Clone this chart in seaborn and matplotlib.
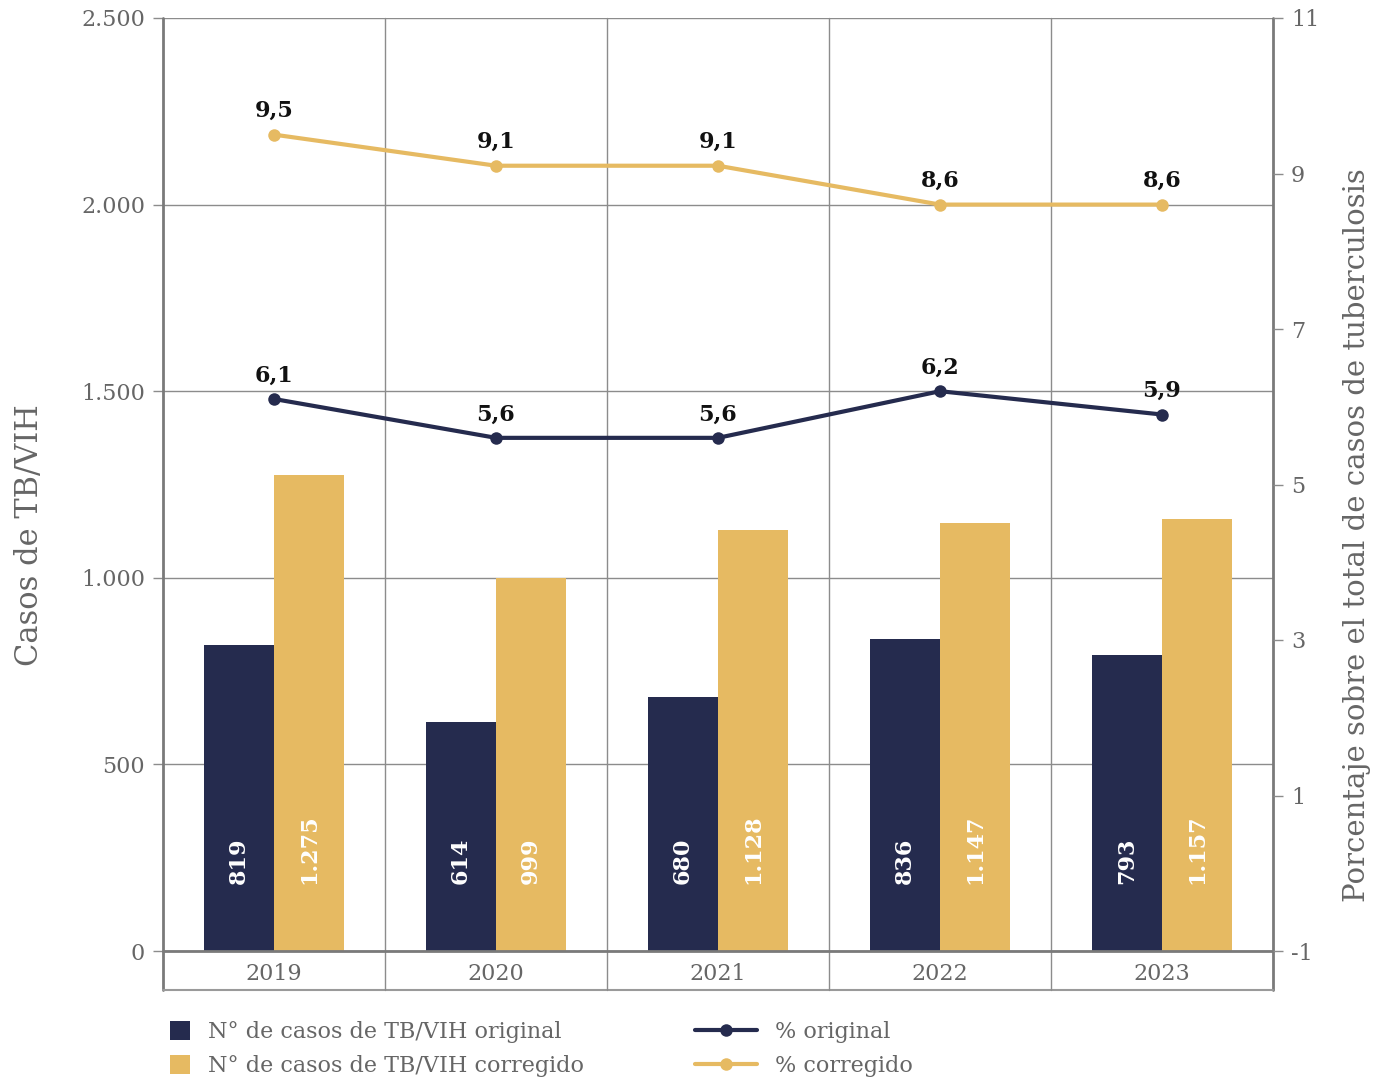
import numpy as np
import pandas as pd
import matplotlib
matplotlib.use("Agg")
import matplotlib.pyplot as plt
from matplotlib.lines import Line2D
from matplotlib.ticker import FuncFormatter
import seaborn as sns

# ---- data ----
years = [2019, 2020, 2021, 2022, 2023]
casos_original = [819, 614, 680, 836, 793]
casos_corregido = [1275, 999, 1128, 1147, 1157]
pct_original = [6.1, 5.6, 5.6, 6.2, 5.9]
pct_corregido = [9.5, 9.1, 9.1, 8.6, 8.6]

LAB_BO = "N° de casos de TB/VIH original"
LAB_BC = "N° de casos de TB/VIH corregido"
LAB_LO = "% original"
LAB_LC = "% corregido"

NAVY = "#252B4E"
GOLD = "#E6BA62"
GREY = "#666666"
LINE = "#8c8c8c"

df_bar = pd.DataFrame({
    "year": years * 2,
    "casos": casos_original + casos_corregido,
    "serie": [LAB_BO] * 5 + [LAB_BC] * 5,
})
df_pct = pd.DataFrame({
    "year": years * 2,
    "pct": pct_original + pct_corregido,
    "serie": [LAB_LO] * 5 + [LAB_LC] * 5,
})

sns.set_style("white")
plt.rcParams["font.family"] = ["DejaVu Serif"]
plt.rcParams["axes.unicode_minus"] = False

fig = plt.figure(figsize=(13.98, 10.83), dpi=100)
ax = fig.add_axes([163 / 1398, 1 - 951 / 1083, 1110 / 1398, 933 / 1083])

sns.barplot(data=df_bar, x="year", y="casos", hue="serie", native_scale=True,
            palette=[NAVY, GOLD], width=0.63, saturation=1, linewidth=0,
            ax=ax, zorder=2)
ax.set_xlim(2018.5, 2023.5)
ax.set_ylim(0, 2500)
ax.set_yticks(np.arange(0, 2501, 500))
ax.yaxis.set_major_formatter(FuncFormatter(lambda v, p: f"{int(v):,}".replace(",", ".")))
ax.set_xticks(years)
ax.set_axisbelow(True)
ax.grid(axis="y", color=LINE, linewidth=1)
ax.grid(axis="x", visible=False)

# bar value labels, white, rotated, anchored near the bottom
for cont in ax.containers:
    for p in cont.patches:
        v = p.get_height()
        ax.text(p.get_x() + p.get_width() / 2, 180, f"{int(v):,}".replace(",", "."),
                rotation=90, ha="center", va="bottom", color="white",
                fontsize=16, fontweight="bold", zorder=3)

ax2 = ax.twinx()
sns.lineplot(data=df_pct, x="year", y="pct", hue="serie", palette=[NAVY, GOLD],
             marker="o", markersize=9, markeredgewidth=0, linewidth=3, ax=ax2)
ax2.set_ylim(-1, 11)
ax2.set_yticks([-1, 1, 3, 5, 7, 9, 11])
ax2.grid(False)
for _, r in df_pct.iterrows():
    ax2.annotate(f"{r.pct:.1f}".replace(".", ","), (r.year, r.pct), xytext=(0, 9),
                 textcoords="offset points", ha="center", va="bottom",
                 fontsize=16, fontweight="bold", color="#111111")

# axis styling
for a in (ax, ax2):
    for s in a.spines.values():
        s.set_visible(False)
ax.tick_params(axis="y", length=7, width=1, color=LINE, pad=6, labelsize=16, labelcolor=GREY)
ax.tick_params(axis="x", length=0, pad=9, labelsize=16, labelcolor=GREY)
ax2.tick_params(axis="y", length=7, width=1, color=LINE, pad=6, labelsize=16, labelcolor=GREY)
ax.set_xlabel("")
ax.set_ylabel("Casos de TB/VIH", fontsize=22, color=GREY)
ax.yaxis.set_label_coords(-0.106, 0.446)
ax2.set_xlabel("")
ax2.set_ylabel("Porcentaje sobre el total de casos de tuberculosis", fontsize=21, color=GREY,
               rotation=90)
ax2.yaxis.set_label_coords(1.063, 0.446)

# frame and category box below the plot
box = -39 / 933
tr = ax.transAxes
for xa in (0, 1):
    ax.add_line(Line2D([xa, xa], [box, 1], transform=tr, color="#7a7a7a", lw=2, clip_on=False))
ax.add_line(Line2D([0, 1], [0, 0], transform=tr, color="#7a7a7a", lw=2, clip_on=False, zorder=4))
ax.add_line(Line2D([0, 1], [box, box], transform=tr, color="#9a9a9a", lw=1.5, clip_on=False))
for k in range(1, 5):
    ax.add_line(Line2D([k / 5, k / 5], [box, 1], transform=tr, color=LINE, lw=1, clip_on=False))

# legends
h1, l1 = ax.get_legend_handles_labels()
ax.get_legend().remove()
h2, l2 = ax2.get_legend_handles_labels()
ax2.get_legend().remove()
fig.legend(h1, l1, loc="upper left", bbox_to_anchor=(170 / 1398, 1 - 1021 / 1083),
           frameon=False, fontsize=16, labelcolor=GREY, handlelength=0.9, handleheight=0.9,
           handletextpad=0.8, labelspacing=0.55, borderpad=0, borderaxespad=0)
fig.legend(h2, l2, loc="upper left", bbox_to_anchor=(695 / 1398, 1 - 1021 / 1083),
           frameon=False, fontsize=16, labelcolor=GREY, handlelength=2.8,
           handletextpad=0.8, labelspacing=0.55, borderpad=0, borderaxespad=0)

fig.savefig("out.png", dpi=100, facecolor="white")
